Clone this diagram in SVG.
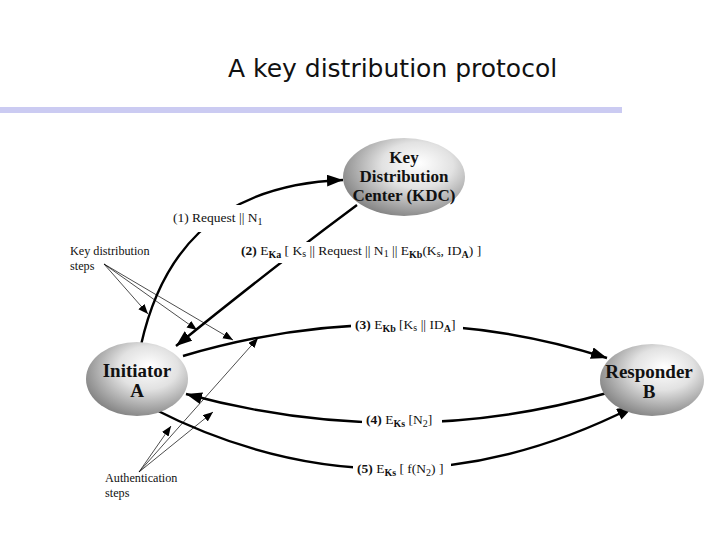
<svg xmlns="http://www.w3.org/2000/svg" width="720" height="540" viewBox="0 0 720 540">
<style>
.title{font-family:"DejaVu Sans","Verdana",sans-serif;font-size:25px;fill:#111}
.node{font-family:"Liberation Serif","Times New Roman",serif;font-weight:bold;fill:#111;text-anchor:middle}
.lbl{font-family:"Liberation Serif","Times New Roman",serif;font-size:13.5px;fill:#111}
.note{font-family:"Liberation Serif","Times New Roman",serif;font-size:12.2px;fill:#111}
.b{font-weight:bold}
.s{font-size:10px}
.thick{fill:none;stroke:#000;stroke-width:2.4}
.thin{fill:none;stroke:#000;stroke-width:0.7}
.bg{fill:#fff}
</style>
<defs>
<radialGradient id="g" cx="0.6" cy="0.38" r="0.65" fx="0.62" fy="0.32">
<stop offset="0" stop-color="#ffffff"/>
<stop offset="0.45" stop-color="#e2e2e2"/>
<stop offset="1" stop-color="#858585"/>
</radialGradient>
<marker id="ah" markerUnits="userSpaceOnUse" markerWidth="18" markerHeight="14" refX="16" refY="6" orient="auto">
<path d="M0,0 L16,6 L0,12 Z" fill="#000"/>
</marker>
<marker id="as" markerUnits="userSpaceOnUse" markerWidth="12" markerHeight="10" refX="10" refY="4" orient="auto">
<path d="M0,0 L10,4 L0,8 Z" fill="#000"/>
</marker>
</defs>
<rect width="720" height="540" fill="#fff"/>
<text class="title" x="228" y="77">A key distribution protocol</text>
<rect x="0" y="107" width="622" height="6" fill="#cbcbf2"/>

<g id="connectors">
<path class="thick" d="M141,345 C160,260 210,185 343,180" marker-end="url(#ah)"/>
<path class="thick" d="M357,205 Q272,268 176,346" marker-end="url(#ah)"/>
<path class="thick" d="M183,356 Q400,292 607,358" marker-end="url(#ah)"/>
<path class="thick" d="M607,393 Q400,452 186,394" marker-end="url(#ah)"/>
<path class="thick" d="M152,408 Q390,530 633,407" marker-end="url(#ah)"/>
<path class="thin" d="M104,264 L148,314" marker-end="url(#as)"/>
<path class="thin" d="M104,264 L197,330" marker-end="url(#as)"/>
<path class="thin" d="M104,264 L233,340" marker-end="url(#as)"/>
<path class="thin" d="M139,472 L171,426" marker-end="url(#as)"/>
<path class="thin" d="M139,472 L213,412" marker-end="url(#as)"/>
<path class="thin" d="M139,472 L258,338" marker-end="url(#as)"/>
</g>

<g id="label1">
<rect class="bg" x="170" y="205" width="110" height="27"/>
<text class="lbl" x="173" y="222">(1) Request || N<tspan class="s" dy="3">1</tspan></text>
</g>
<g id="label2">
<rect class="bg" x="237" y="242" width="254" height="21"/>
<text class="lbl" x="241" y="255"><tspan class="b">(2)</tspan> E<tspan class="s b" dy="3">Ka</tspan><tspan dy="-3"> [ K</tspan><tspan class="s" dy="2">s</tspan><tspan dy="-2"> || Request || N</tspan><tspan class="s" dy="2">1</tspan><tspan dy="-2"> || E</tspan><tspan class="s b" dy="3">Kb</tspan><tspan dy="-3">(K</tspan><tspan class="s" dy="2">s</tspan><tspan dy="-2">, ID</tspan><tspan class="s b" dy="3">A</tspan><tspan dy="-3">) ]</tspan></text>
</g>
<g id="label3">
<rect class="bg" x="351" y="315" width="112" height="20"/>
<text class="lbl" x="355" y="329"><tspan class="b">(3)</tspan> E<tspan class="s b" dy="3">Kb</tspan><tspan dy="-3"> [K</tspan><tspan class="s" dy="2">s</tspan><tspan dy="-2"> || ID</tspan><tspan class="s b" dy="3">A</tspan><tspan dy="-3">]</tspan></text>
</g>
<g id="label4">
<rect class="bg" x="362" y="411" width="80" height="21"/>
<text class="lbl" x="366" y="424"><tspan class="b">(4)</tspan> E<tspan class="s b" dy="3">Ks</tspan><tspan dy="-3"> [N</tspan><tspan class="s" dy="3">2</tspan><tspan dy="-3">]</tspan></text>
</g>
<g id="label5">
<rect class="bg" x="353" y="460" width="98" height="20"/>
<text class="lbl" x="357" y="473"><tspan class="b">(5)</tspan> E<tspan class="s b" dy="3">Ks</tspan><tspan dy="-3"> [ f(N</tspan><tspan class="s" dy="3">2</tspan><tspan dy="-3">) ]</tspan></text>
</g>

<g id="note-key">
<text class="note" x="70" y="255">Key distribution</text>
<text class="note" x="70" y="270">steps</text>
</g>
<g id="note-auth">
<text class="note" x="105" y="482">Authentication</text>
<text class="note" x="105" y="497">steps</text>
</g>

<g id="kdc">
<ellipse cx="404" cy="177" rx="61" ry="39" fill="url(#g)"/>
<text class="node" x="404" y="163" font-size="17">Key</text>
<text class="node" x="404" y="182" font-size="17">Distribution</text>
<text class="node" x="404" y="201" font-size="17">Center (KDC)</text>
</g>
<g id="initiator">
<ellipse cx="137" cy="379" rx="51" ry="37" fill="url(#g)"/>
<text class="node" x="137" y="377" font-size="19">Initiator</text>
<text class="node" x="137" y="397" font-size="19">A</text>
</g>
<g id="responder">
<ellipse cx="652" cy="380" rx="52" ry="36" fill="url(#g)"/>
<text class="node" x="649" y="378" font-size="19">Responder</text>
<text class="node" x="649" y="398" font-size="19">B</text>
</g>
</svg>
